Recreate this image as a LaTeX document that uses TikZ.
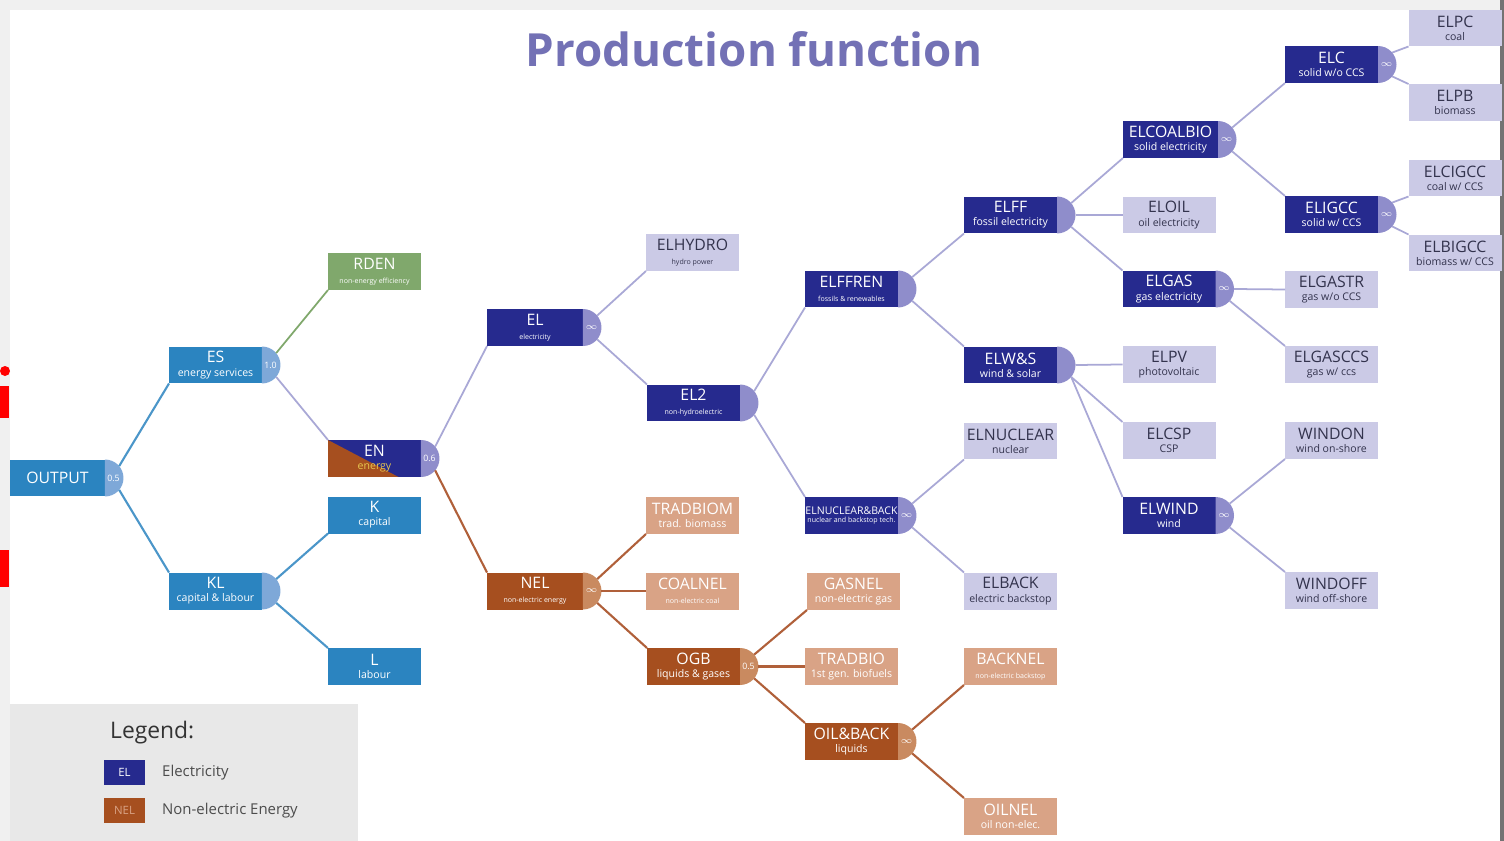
\documentclass[tikz,border=0pt]{standalone}
\usepackage{fontspec}
\setmainfont{Open Sans}

\definecolor{esblue}{HTML}{2B84C0}
\definecolor{escap}{HTML}{7EA8D8}
\definecolor{rdgreen}{HTML}{80A86C}
\definecolor{elnavy}{HTML}{262A8E}
\definecolor{elcap}{HTML}{8F8DCB}
\definecolor{elleaf}{HTML}{CBCAE6}
\definecolor{elline}{HTML}{A9A8D6}
\definecolor{nelbrown}{HTML}{A64F1F}
\definecolor{nelcap}{HTML}{C98A60}
\definecolor{nelleaf}{HTML}{D9A386}
\definecolor{nelline}{HTML}{B0603A}
\definecolor{titlecol}{HTML}{7371B5}
\definecolor{leaftext}{HTML}{33334D}
\definecolor{legendgrey}{HTML}{E8E8E8}

% title line + small line under it
\newcommand{\lbl}[2]{#1\\[-2.5pt]{\fontsize{6}{6.5}\selectfont #2}}
\newcommand{\lbltiny}[2]{#1\\[-2pt]{\fontsize{4}{4.5}\selectfont #2}}

\tikzset{
  box/.style={rectangle, minimum width=1.86cm, minimum height=0.74cm, inner sep=0pt, outer sep=0pt,
    align=center, font=\fontsize{9}{10}\selectfont},
  blubox/.style={box, fill=esblue, text=white},
  elbox/.style={box, fill=elnavy, text=white},
  elleafbox/.style={box, fill=elleaf, text=leaftext},
  nelbox/.style={box, fill=nelbrown, text=white},
  nelleafbox/.style={box, fill=nelleaf, text=white},
  capnode/.style={circle, minimum size=0.74cm, inner sep=0pt, outer sep=0pt},
  capval/.style={font=\fontsize{5}{5}\selectfont, text=white, inner sep=0pt},
  bline/.style={esblue!85!white, line width=1.2pt},
  eline/.style={elline, line width=1pt},
  nline/.style={nelline, line width=1.2pt},
  gline/.style={rdgreen, line width=1pt},
}

\begin{document}
\begin{tikzpicture}[x=0.02cm, y=-0.02cm]
  \useasboundingbox (0,0) rectangle (1504,841);
  % slide frame
  \fill[black!6] (0,0) rectangle (1504,841);
  \fill[white] (10,10) rectangle (1500,841);
  \fill[black!55] (1500,0) rectangle (1504,841);
  \fill[red] (5,371) circle (5);
  \fill[red] (0,386) rectangle (9,418);
  \fill[red] (0,550) rectangle (9,587);

  \node[font=\fontsize{26}{28}\selectfont\bfseries, text=titlecol] (title) at (754,49) {Production function};

  % level 0-2
  \node[blubox, minimum width=1.9cm] (OUTPUT) at (57.5,478) {OUTPUT};
  \node[blubox] (ES) at (215.5,365) {\lbl{ES}{energy services}};
  \node[blubox] (KL) at (215.5,591) {\lbl{KL}{capital \& labour}};
  \node[box, fill=rdgreen, text=white] (RDEN) at (374.5,271.5) {\lbltiny{RDEN}{non-energy efficiency}};
  \node[elbox, path picture={\fill[nelbrown] (path picture bounding box.north west)
      -- (path picture bounding box.south west) -- ([xshift=-0.45cm]path picture bounding box.south east) -- cycle;}]
    (EN) at (374.5,458.5) {\lbl{EN}{\color{nelleaf!60!yellow}energy}};
  \node[blubox] (K) at (374.5,515) {\lbl{K}{capital}};
  \node[blubox] (L) at (374.5,666.5) {\lbl{L}{labour}};

  % electric branch
  \node[elbox, minimum width=1.92cm] (EL) at (535,327.5) {\lbltiny{EL}{electricity}};
  \node[elleafbox] (ELHYDRO) at (692.5,252.5) {\lbltiny{ELHYDRO}{hydro power}};
  \node[elbox] (EL2) at (693.5,403) {\lbltiny{EL2}{non-hydroelectric}};
  \node[elbox] (ELFFREN) at (851.5,289) {\lbltiny{ELFFREN}{fossils \& renewables}};
  \node[elbox, font=\fontsize{6}{7}\selectfont] (ELNB) at (851.5,515.5) {\lbltiny{ELNUCLEAR\&BACK}{nuclear and backstop tech.}};
  \node[elbox] (ELFF) at (1010.5,215) {\lbl{ELFF}{fossil electricity}};
  \node[elbox] (ELWS) at (1010.5,365) {\lbl{ELW\&S}{wind \& solar}};
  \node[elleafbox] (ELNUCLEAR) at (1010.5,441) {\lbl{ELNUCLEAR}{nuclear}};
  \node[elleafbox] (ELBACK) at (1010.5,591) {\lbl{ELBACK}{electric backstop}};
  \node[elbox, minimum width=1.9cm] (ELCOALBIO) at (1170.5,139.5) {\lbl{ELCOALBIO}{solid electricity}};
  \node[elleafbox] (ELOIL) at (1169,215) {\lbl{ELOIL}{oil electricity}};
  \node[elbox] (ELGAS) at (1169,289) {\lbl{ELGAS}{gas electricity}};
  \node[elleafbox] (ELPV) at (1169,364.5) {\lbl{ELPV}{photovoltaic}};
  \node[elleafbox] (ELCSP) at (1169,440.5) {\lbl{ELCSP}{CSP}};
  \node[elbox] (ELWIND) at (1169,515.5) {\lbl{ELWIND}{wind}};
  \node[elbox] (ELC) at (1331.5,64.5) {\lbl{ELC}{solid w/o CCS}};
  \node[elbox] (ELIGCC) at (1331.5,214.5) {\lbl{ELIGCC}{solid w/ CCS}};
  \node[elleafbox] (ELGASTR) at (1331.5,289.5) {\lbl{ELGASTR}{gas w/o CCS}};
  \node[elleafbox] (ELGASCCS) at (1331.5,364.5) {\lbl{ELGASCCS}{gas w/ ccs}};
  \node[elleafbox] (WINDON) at (1331.5,440.5) {\lbl{WINDON}{wind on-shore}};
  \node[elleafbox] (WINDOFF) at (1331.5,590.5) {\lbl{WINDOFF}{wind off-shore}};
  \node[elleafbox] (ELPC) at (1455,28) {\lbl{ELPC}{coal}};
  \node[elleafbox] (ELPB) at (1455,102.5) {\lbl{ELPB}{biomass}};
  \node[elleafbox] (ELCIGCC) at (1455,178) {\lbl{ELCIGCC}{coal w/ CCS}};
  \node[elleafbox] (ELBIGCC) at (1455,253) {\lbl{ELBIGCC}{biomass w/ CCS}};

  % non-electric branch
  \node[nelbox, minimum width=1.92cm] (NEL) at (535,591) {\lbltiny{NEL}{non-electric energy}};
  \node[nelleafbox] (TRADBIOM) at (692.5,515.5) {\lbl{TRADBIOM}{trad. biomass}};
  \node[nelleafbox] (COALNEL) at (692.5,591) {\lbltiny{COALNEL}{non-electric coal}};
  \node[nelbox] (OGB) at (693.5,666.5) {\lbl{OGB}{liquids \& gases}};
  \node[nelleafbox] (GASNEL) at (853.5,591.5) {\lbl{GASNEL}{non-electric gas}};
  \node[nelleafbox] (TRADBIO) at (851.5,666.5) {\lbl{TRADBIO}{1st gen. biofuels}};
  \node[nelbox] (OILB) at (851.5,741.5) {\lbl{OIL\&BACK}{liquids}};
  \node[nelleafbox] (BACKNEL) at (1010.5,666.5) {\lbltiny{BACKNEL}{non-electric backstop}};
  \node[nelleafbox] (OILNEL) at (1010.5,816.5) {\lbl{OILNEL}{oil non-elec.}};

  % rounded ends with substitution values
  \foreach \n/\k/\v in {OUTPUT/escap/0.5, ES/escap/1.0, KL/escap/, EN/elcap/0.6,
      EL/elcap/$\infty$, EL2/elcap/, ELFFREN/elcap/, ELNB/elcap/$\infty$, ELFF/elcap/,
      ELWS/elcap/, ELCOALBIO/elcap/$\infty$, ELGAS/elcap/$\infty$, ELWIND/elcap/$\infty$,
      ELC/elcap/$\infty$, ELIGCC/elcap/$\infty$, NEL/nelcap/$\infty$, OGB/nelcap/0.5,
      OILB/nelcap/$\infty$} {
    \fill[\k] (\n.north east) arc[start angle=90, end angle=-90, radius=0.37cm] -- cycle;
    \node[capnode] (\n-c) at (\n.east) {};
    \node[capval] (\n-v) at ([xshift=0.17cm]\n.east) {\v};
  }

  % connectors
  \foreach \p/\c/\k in {OUTPUT/ES/bline, ES/RDEN/gline, KL/K/bline, EN/EL/eline,
      EL/ELHYDRO/eline, NEL/TRADBIOM/nline, EL2/ELFFREN/eline, OGB/GASNEL/nline,
      ELFFREN/ELFF/eline, ELNB/ELNUCLEAR/eline, OILB/BACKNEL/nline, ELFF/ELCOALBIO/eline,
      ELWIND/WINDON/eline, ELCOALBIO/ELC/eline, ELC/ELPC/eline, ELIGCC/ELCIGCC/eline}
    \draw[\k] (\p-c.40) -- (\c.south west);
  \foreach \p/\c/\k in {NEL/COALNEL/nline, OGB/TRADBIO/nline, ELFF/ELOIL/eline,
      ELWS/ELPV/eline, ELGAS/ELGASTR/eline}
    \draw[\k] (\p-c.east) -- (\c.west);
  \foreach \p/\c/\k in {OUTPUT/KL/bline, ES/EN/eline, KL/L/bline, EN/NEL/nline,
      EL/EL2/eline, EL2/ELNB/eline, NEL/OGB/nline, OGB/OILB/nline, OILB/OILNEL/nline,
      ELFFREN/ELWS/eline, ELNB/ELBACK/eline, ELFF/ELGAS/eline, ELWS/ELCSP/eline,
      ELWS/ELWIND/eline, ELCOALBIO/ELIGCC/eline, ELGAS/ELGASCCS/eline,
      ELWIND/WINDOFF/eline, ELC/ELPB/eline, ELIGCC/ELBIGCC/eline}
    \draw[\k] (\p-c.-40) -- (\c.north west);

  % legend
  \fill[legendgrey] (10,704) rectangle (358,841);
  \node[anchor=west, font=\fontsize{13}{14}\selectfont, text=black!80] (legend) at (104,733) {Legend:};
  \node[elbox, minimum width=0.82cm, minimum height=0.5cm, font=\fontsize{6.5}{7}\selectfont] (legEL) at (124.5,772.5) {EL};
  \node[nelbox, minimum width=0.82cm, minimum height=0.5cm, font=\fontsize{6.5}{7}\selectfont, text=nelleaf] (legNEL) at (124.5,810.5) {NEL};
  \node[anchor=west, font=\fontsize{8.5}{9}\selectfont, text=black!70] (legELt) at (156,772.5) {Electricity};
  \node[anchor=west, font=\fontsize{8.5}{9}\selectfont, text=black!70] (legNELt) at (156,810.5) {Non-electric Energy};
\end{tikzpicture}
\end{document}
